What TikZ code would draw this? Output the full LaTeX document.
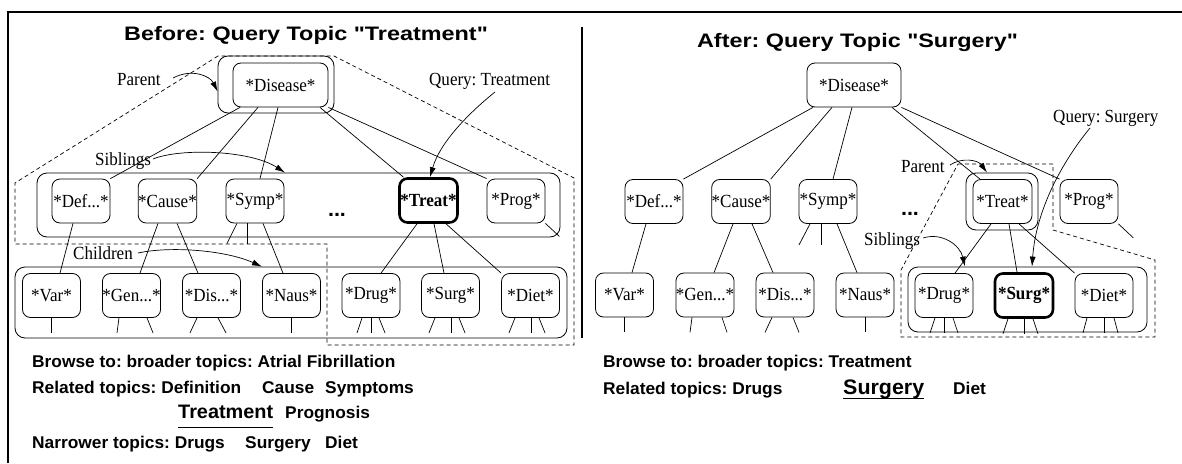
\documentclass[tikz,border=0pt]{standalone}
\usepackage{fontspec}
\newfontfamily\nfont{Liberation Serif}[FakeStretch=0.92]
\newfontfamily\tfont{Liberation Sans}[FakeStretch=1.2]
\newfontfamily\bfont{Liberation Sans}[FakeStretch=1.02]
\usetikzlibrary{arrows.meta,calc}
\AtBeginDocument{\frenchspacing}
\tikzset{
  tnode/.style={draw, rounded corners=8pt, minimum width=58pt, minimum height=44pt, inner sep=0pt,
    line width=0.8pt, font=\nfont\fontsize{18.5}{20}\selectfont},
  qnode/.style={tnode, line width=2.6pt, font=\nfont\bfseries\fontsize{18.5}{20}\selectfont},
  grp/.style={draw, rounded corners=10pt, line width=0.8pt, inner sep=0pt},
  hl/.style={draw, dash pattern=on 4pt off 3pt, line width=0.7pt},
  conn/.style={line width=0.7pt},
  arr/.style={line width=0.7pt, -{Latex[length=10pt,width=6pt]}},
  frame/.style={line width=1.1pt},
  lbl/.style={font=\nfont\fontsize{18.5}{20}\selectfont, inner sep=0pt, anchor=base west},
  dots/.style={font=\bfont\bfseries\fontsize{21}{22}\selectfont, inner sep=0pt, anchor=base},
  ttl/.style={font=\tfont\bfseries\fontsize{19.5}{22}\selectfont, inner sep=0pt, anchor=base},
  btxt/.style={font=\bfont\bfseries\fontsize{17}{20}\selectfont, inner sep=0pt, anchor=base west},
  uline/.style={line width=1pt}
}
\begin{document}
\begin{tikzpicture}[x=1pt,y=-1pt]
\useasboundingbox (0,0) rectangle (1182,463);
% frame
\coordinate (fBL) at (8,463); \coordinate (fTL) at (8,12); \coordinate (fTR) at (1182,12);
\draw[frame] (fBL) -- (fTL) -- (fTR);
\coordinate (dT) at (582,27); \coordinate (dB) at (582,338);
\draw[frame] (dT) -- (dB);

% titles
\node[ttl] (lTitle) at (306,40) {Before: Query Topic "Treatment"};
\node[ttl] (rTitle) at (857.5,47) {After: Query Topic "Surgery"};

% ================= LEFT =================
\draw[hl] (218,56) -- (15,183) -- (15,244) -- (327,244) -- (327,345) -- (574,345) -- (574,178) -- (334,56) -- cycle;
\node[grp, minimum width=116pt, minimum height=57pt] (lDo) at (276,84.5) {};
\node[grp, minimum width=523pt, minimum height=64pt] (lSib) at (298.5,205) {};
\node[grp, minimum width=552pt, minimum height=71pt] (lKid) at (291,302.5) {};

\node[tnode, minimum width=95pt] (lD) at (280.5,85) {*Disease*};
\node[tnode] (lDef) at (81,201) {*Def...*};
\node[tnode] (lCause) at (167.5,201) {*Cause*};
\node[tnode] (lSymp) at (255,201) {*Symp*};
\node[dots] (lDots) at (337,216) {...};
\node[qnode] (lTreat) at (428.5,200.5) {*Treat*};
\node[tnode] (lProg) at (516,201) {*Prog*};

\node[tnode] (lVar) at (51.5,295.5) {*Var*};
\node[tnode] (lGen) at (131.5,295.5) {*Gen...*};
\node[tnode] (lDis) at (211.5,295.5) {*Dis...*};
\node[tnode] (lNaus) at (291.5,295.5) {*Naus*};
\node[tnode] (lDrug) at (371,295.5) {*Drug*};
\node[tnode] (lSurg) at (450.5,295.5) {*Surg*};
\node[tnode] (lDiet) at (530.5,295.5) {*Diet*};

% edges
\draw[conn] ([xshift=-40.5pt]lD.south) -- (lDef.north east);
\draw[conn] ([xshift=-22.5pt]lD.south) -- (lCause.north east);
\draw[conn] ([xshift=-2.5pt]lD.south) -- ([xshift=5pt]lSymp.north);
\draw[conn] ([xshift=39.5pt]lD.south) -- ([xshift=-25pt]lTreat.north);
\draw[conn] (lD.south east) -- (lProg.north west);

\draw[conn] ([xshift=-8pt]lDef.south) -- ([xshift=8.5pt]lVar.north);
\draw[conn] ([xshift=-9.5pt]lCause.south) -- ([xshift=8.5pt]lGen.north);
\draw[conn] ([xshift=9.5pt]lCause.south) -- ([xshift=-13.5pt]lDis.north);
\draw[conn] ([xshift=8pt]lSymp.south) -- ([xshift=-8.5pt]lNaus.north);
\draw[conn] ([xshift=-18pt]lSymp.south) -- ++(-10,20);
\draw[conn] ([xshift=-8pt]lSymp.south) -- ++(0,21);
\draw[conn] ([xshift=-11.5pt]lTreat.south) -- ([xshift=10pt]lDrug.north);
\draw[conn] ([xshift=5.5pt]lTreat.south) -- ([xshift=-6.5pt]lSurg.north);
\draw[conn] ([xshift=17.5pt]lTreat.south) -- (lDiet.north west);
\draw[conn] (lProg.south east) -- ++(14,13);

% stubs
\draw[conn] (lVar.south) -- ++(0,15);
\draw[conn] ([xshift=-12.5pt]lGen.south) -- ++(-2,15);
\draw[conn] ([xshift=15.5pt]lGen.south) -- ++(6,15);
\draw[conn] ([xshift=-14.5pt]lDis.south) -- ++(-7,15);
\draw[conn] ([xshift=6.5pt]lDis.south) -- ++(8,15);
\draw[conn] (lNaus.south) -- ++(0,15);
\draw[conn] ([xshift=-9pt]lDrug.south) -- ++(-5,15);
\draw[conn] (lDrug.south) -- ++(0,15);
\draw[conn] ([xshift=8pt]lDrug.south) -- ++(6,15);
\draw[conn] ([xshift=-15.5pt]lSurg.south) -- ++(-6,15);
\draw[conn] ([xshift=0.5pt]lSurg.south) -- ++(0,15);
\draw[conn] ([xshift=8.5pt]lSurg.south) -- ++(6,15);
\draw[conn] ([xshift=-15.5pt]lDiet.south) -- ++(-6,15);
\draw[conn] ([xshift=0.5pt]lDiet.south) -- ++(0,15);
\draw[conn] ([xshift=8.5pt]lDiet.south) -- ++(6,15);

% labels
\node[lbl] (lPar) at (117,85) {Parent};
\node[lbl] (lSibL) at (95,165) {Siblings};
\node[lbl] (lChL) at (73,259) {Children};
\node[lbl] (lQ) at (429,85) {Query: Treatment};
\coordinate (lParS) at (173,78);
\coordinate (lSibS) at (153,159);
\coordinate (lChS) at (138,253);
\coordinate (lQS) at (495,92);
\draw[arr] (lParS) .. controls (192,68) and (210,76) .. ([yshift=-7pt]lDo.west);
\draw[arr] (lSibS) .. controls (180,148) and (250,150) .. ([xshift=-13.5pt]lSib.north);
\draw[arr] (lChS) .. controls (170,246) and (225,250) .. ([xshift=-29pt]lKid.north);
\draw[arr] (lQS) .. controls (470,112) and (440,142) .. ([xshift=1.5pt]lTreat.north);

% bottom text
\node[btxt] (lB1) at (32,367) {Browse to: broader topics: Atrial Fibrillation};
\node[btxt] (lB2a) at (32,393) {Related topics: Definition};
\node[btxt] (lB2b) at (262,393) {Cause};
\node[btxt] (lB2c) at (325,393) {Symptoms};
\node[btxt, font=\bfont\bfseries\fontsize{19.5}{22}\selectfont] (lTr) at (178,418) {Treatment};
\node[btxt] (lB3b) at (285,418) {Prognosis};
\draw[uline] ([yshift=-9pt]lTr.base west) -- ([yshift=-9pt]lTr.base east);
\node[btxt] (lB4a) at (32,448) {Narrower topics: Drugs};
\node[btxt] (lB4b) at (245,448) {Surgery};
\node[btxt] (lB4c) at (325,448) {Diet};

% ================= RIGHT =================
\draw[hl] (958,164) -- (1053,164) -- (1053,230) -- (1155,260) -- (1155,337) -- (901,337) -- (901,270) -- cycle;
\node[grp, minimum width=72pt, minimum height=57pt] (rTo) at (1002,201.5) {};
\node[grp, minimum width=239pt, minimum height=65pt] (rKid) at (1027.5,299.5) {};

\node[tnode, minimum width=94pt] (rD) at (854,85) {*Disease*};
\node[tnode] (rDef) at (654,201.5) {*Def...*};
\node[tnode] (rCause) at (741,201.5) {*Cause*};
\node[tnode] (rSymp) at (828,201.5) {*Symp*};
\node[dots] (rDots) at (910,215) {...};
\node[tnode, minimum width=59pt] (rTreat) at (1002.5,201.5) {*Treat*};
\node[tnode] (rProg) at (1089,201.5) {*Prog*};

\node[tnode] (rVar) at (624.5,295) {*Var*};
\node[tnode] (rGen) at (705,295) {*Gen...*};
\node[tnode] (rDis) at (785,295) {*Dis...*};
\node[tnode] (rNaus) at (865,295) {*Naus*};
\node[tnode] (rDrug) at (944,295.5) {*Drug*};
\node[qnode] (rSurg) at (1024,295.5) {*Surg*};
\node[tnode] (rDiet) at (1104,295.5) {*Diet*};

\draw[conn] ([xshift=-41pt]rD.south) -- (rDef.north east);
\draw[conn] ([xshift=-22pt]rD.south) -- (rCause.north east);
\draw[conn] ([xshift=-2pt]rD.south) -- ([xshift=5pt]rSymp.north);
\draw[conn] ([xshift=38pt]rD.south) -- ([xshift=-22.5pt]rTreat.north);
\draw[conn] (rD.south east) -- (rProg.north west);

\draw[conn] ([xshift=-8pt]rDef.south) -- ([xshift=7.5pt]rVar.north);
\draw[conn] ([xshift=-8pt]rCause.south) -- ([xshift=9pt]rGen.north);
\draw[conn] ([xshift=11pt]rCause.south) -- ([xshift=-12pt]rDis.north);
\draw[conn] ([xshift=9pt]rSymp.south) -- ([xshift=-8pt]rNaus.north);
\draw[conn] ([xshift=-18pt]rSymp.south) -- ++(-11,21);
\draw[conn] ([xshift=-7pt]rSymp.south) -- ++(0,21);
\draw[conn] ([xshift=-11.5pt]rTreat.south) -- ([xshift=11pt]rDrug.north);
\draw[conn] ([xshift=6.5pt]rTreat.south) -- ([xshift=-7pt]rSurg.north);
\draw[conn] ([xshift=16.5pt]rTreat.south) -- (rDiet.north west);
\draw[conn] (rProg.south east) -- ++(15,14);

\draw[conn] (rVar.south) -- ++(0,15);
\draw[conn] ([xshift=-13pt]rGen.south) -- ++(-2,15);
\draw[conn] ([xshift=17pt]rGen.south) -- ++(5,15);
\draw[conn] ([xshift=-13pt]rDis.south) -- ++(-7,15);
\draw[conn] ([xshift=8pt]rDis.south) -- ++(6,15);
\draw[conn] (rNaus.south) -- ++(0,15);
\draw[conn] ([xshift=-9pt]rDrug.south) -- ++(-5,15);
\draw[conn] (rDrug.south) -- ++(0,15);
\draw[conn] ([xshift=9pt]rDrug.south) -- ++(5,15);
\draw[conn] ([xshift=-16pt]rSurg.south) -- ++(-5,15);
\draw[conn] (rSurg.south) -- ++(0,15);
\draw[conn] ([xshift=9pt]rSurg.south) -- ++(5,15);
\draw[conn] ([xshift=-17pt]rDiet.south) -- ++(-4,15);
\draw[conn] (rDiet.south) -- ++(0,15);
\draw[conn] ([xshift=10pt]rDiet.south) -- ++(4,15);

\node[lbl] (rPar) at (901,172) {Parent};
\node[lbl] (rQ) at (1053,122) {Query: Surgery};
\node[lbl] (rSibL) at (864,245) {Siblings};
\coordinate (rParS) at (950,165);
\coordinate (rSibS) at (923,238);
\coordinate (rQS) at (1090,128);
\draw[arr] (rParS) .. controls (962,157) and (978,160) .. ([xshift=-15pt]rTo.north);
\draw[arr] (rSibS) .. controls (942,232) and (960,245) .. ([xshift=-62.5pt]rKid.north);
\draw[arr] (rQS) .. controls (1062,162) and (1036,210) .. ([xshift=4.5pt]rKid.north);

\node[btxt] (rB1) at (603,367) {Browse to: broader topics: Treatment};
\node[btxt] (rB2a) at (603,394) {Related topics: Drugs};
\node[btxt, font=\bfont\bfseries\fontsize{21}{24}\selectfont] (rSu) at (843,394) {Surgery};
\node[btxt] (rB2c) at (953,394) {Diet};
\draw[uline] ([yshift=-4.5pt]rSu.base west) -- ([yshift=-4.5pt]rSu.base east);
\end{tikzpicture}
\end{document}
